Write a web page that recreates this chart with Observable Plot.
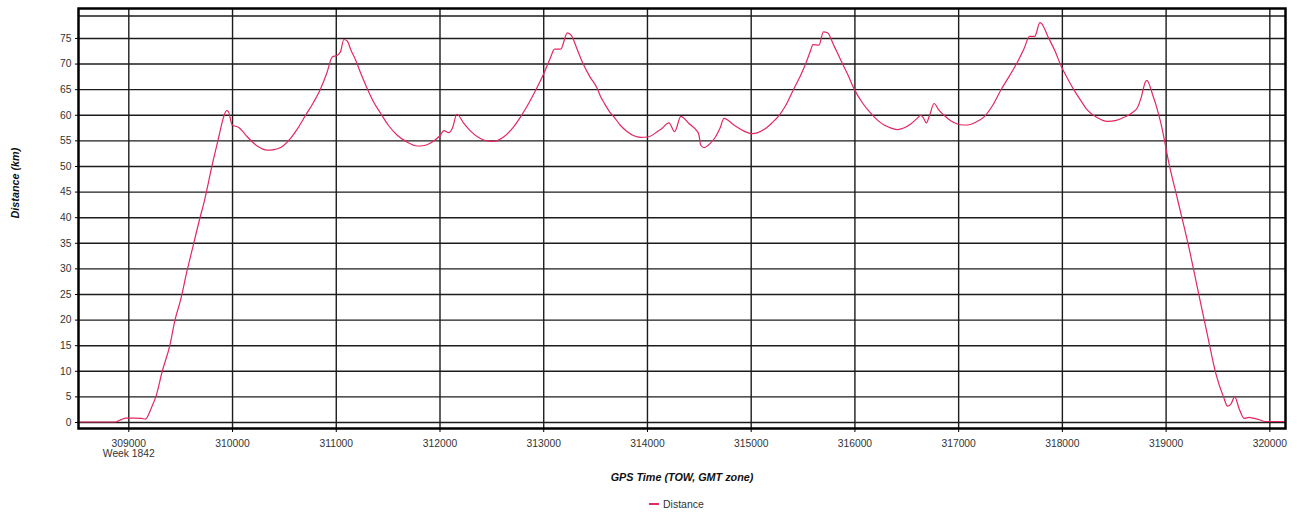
<!DOCTYPE html>
<html>
<head>
<meta charset="utf-8">
<script src="https://cdn.jsdelivr.net/npm/d3@7"></script>
<script src="https://cdn.jsdelivr.net/npm/@observablehq/plot@0.6"></script>
<style>
  html, body { margin: 0; padding: 0; background: #fff; }
  #wrap { position: relative; width: 1297px; height: 514px; font-family: "Liberation Sans", Arial, sans-serif; }
  #legend { position: absolute; left: 649px; top: 497px; height: 14px; display: flex; align-items: center; font-size: 10.5px; color: #333; }
  #legend .sw { width: 10px; height: 2px; background: #e3285f; margin-right: 4px; }
</style>
</head>
<body>
<div id="wrap"><div id="chart"></div><div id="legend"><span class="sw"></span><span>Distance</span></div></div>
<script>
// GPS time of week (s)
const tow = [
  308520, 308870, 308930, 308970, 309050, 309120, 309160, 309220, 309260, 309325,
  309395, 309445, 309500, 309560, 309620, 309680, 309730, 309807, 309870, 309910,
  309942, 309960, 309997, 310061, 310100, 310142, 310238, 310335, 310400, 310463,
  310559, 310630, 310704, 310780, 310849, 310910, 310961, 311010, 311041, 311073,
  311106, 311140, 311186, 311240, 311299, 311360, 311427, 311500, 311588, 311680,
  311781, 311850, 311909, 311999, 312038, 312086, 312118, 312163, 312230, 312300,
  312385, 312450, 312520, 312616, 312700, 312777, 312860, 312938, 313002, 313060,
  313105, 313163, 313228, 313266, 313320, 313372, 313440, 313517, 313549, 313580,
  313645, 313677, 313740, 313806, 313870, 313934, 314014, 314095, 314127, 314207,
  314262, 314322, 314400, 314474, 314495, 314513, 314545, 314609, 314657, 314700,
  314738, 314834, 314931, 315012, 315123, 315200, 315270, 315330, 315400, 315477,
  315526, 315570, 315596, 315654, 315696, 315735, 315800, 315863, 315930, 315991,
  316070, 316152, 316220, 316281, 316350, 316410, 316470, 316538, 316600, 316634,
  316660, 316689, 316720, 316763, 316810, 316859, 316920, 316988, 317040, 317085,
  317160, 317245, 317330, 317406, 317490, 317567, 317630, 317684, 317734, 317783,
  317800, 317860, 317930, 317990, 318060, 318113, 318180, 318242, 318330, 318435,
  318520, 318595, 318680, 318724, 318760, 318800, 318815, 318830, 318870, 318910,
  318949, 318990, 319013, 319110, 319222, 319302, 319399, 319479, 319553, 319592,
  319624, 319662, 319704, 319752, 319800, 319850, 319913, 319950, 320140
];
// Distance (km)
const distance = [
  0.1, 0.1, 0.6, 0.85, 0.85, 0.8, 0.65, 3.0, 5.0, 10.2,
  15.0, 20.0, 24.0, 29.5, 34.5, 39.5, 43.4, 50.6, 56.0, 59.4,
  60.9, 60.7, 58.1, 57.6, 56.8, 55.8, 54.0, 53.2, 53.3, 53.7,
  55.5, 57.5, 60.0, 62.5, 65.2, 68.3, 71.4, 71.7, 72.4, 74.8,
  74.5, 72.8, 70.8, 68.0, 65.2, 62.6, 60.4, 58.1, 56.1, 54.8,
  54.0, 54.1, 54.6, 56.0, 57.0, 56.6, 57.4, 60.2, 58.4, 56.8,
  55.5, 55.0, 54.9, 55.8, 57.5, 59.7, 62.5, 65.5, 68.2, 71.0,
  72.9, 72.9, 76.1, 75.6, 73.0, 70.4, 67.7, 65.2, 63.6, 62.5,
  60.4, 59.7, 58.0, 56.8, 56.0, 55.7, 55.8, 56.8, 57.2, 58.5,
  56.8, 59.8, 58.4, 57.0, 56.3, 54.2, 53.7, 54.6, 55.8, 57.5,
  59.4, 58.1, 56.9, 56.4, 57.2, 58.5, 60.0, 61.8, 64.7, 67.8,
  70.1, 72.5, 73.8, 73.7, 76.3, 76.1, 73.5, 70.8, 68.0, 65.2,
  62.5, 60.4, 59.0, 58.1, 57.5, 57.2, 57.5, 58.3, 59.4, 60.0,
  59.5, 58.5, 60.0, 62.3, 61.0, 60.0, 59.0, 58.3, 58.1, 58.1,
  58.6, 59.7, 62.0, 64.9, 67.7, 70.4, 73.0, 75.4, 75.4, 78.1,
  77.9, 75.4, 72.5, 69.5, 66.8, 64.9, 62.8, 61.0, 59.6, 58.8,
  59.0, 59.6, 60.6, 61.5, 63.5, 66.5, 66.8, 66.4, 64.0, 61.5,
  58.5, 54.5, 52.0, 43.6, 34.0, 26.3, 17.0, 9.6, 5.0, 3.2,
  3.6, 5.0, 2.7, 0.8, 1.0, 0.8, 0.45, 0.2, 0.2
];
const xTicks = [309000, 310000, 311000, 312000, 313000, 314000, 315000, 316000, 317000, 318000, 319000, 320000];
const yTicks = [0, 5, 10, 15, 20, 25, 30, 35, 40, 45, 50, 55, 60, 65, 70, 75];
const weekLabel = ["Week 1842"];
const xTitle = ["GPS Time (TOW, GMT zone)"];
const yTitle = ["Distance (km)"];
const seriesName = "Distance";

const data = tow.map((t, i) => ({t, d: distance[i]}));
const gridStroke = "#1c1c1c";

const chart = Plot.plot({
  width: 1297,
  height: 492,
  marginTop: 8,
  marginLeft: 78,
  marginRight: 12,
  marginBottom: 64,
  style: {fontFamily: "'Liberation Sans', Arial, sans-serif", fontSize: "10.3px", background: "#fff", color: "#333", overflow: "visible"},
  x: {domain: [308515, 320151]},
  y: {domain: [-1.17, 80.85]},
  marks: [
    Plot.gridY(yTicks, {stroke: gridStroke, strokeOpacity: 1, strokeWidth: 1.4}),
    Plot.ruleY([79.4], {stroke: gridStroke, strokeWidth: 1.4}),
    Plot.gridX(xTicks, {stroke: gridStroke, strokeOpacity: 1, strokeWidth: 1.4}),
    Plot.line(data, {x: "t", y: "d", stroke: "#e3285f", strokeWidth: 1.2, curve: "monotone-x"}),
    Plot.frame({stroke: "#000", strokeWidth: 2.5}),
    Plot.axisY(yTicks, {tickSize: 3, tickPadding: 4, label: null, stroke: "#000"}),
    Plot.axisX(xTicks, {tickSize: 4, tickPadding: 7, label: null, tickFormat: d => String(d), stroke: "#000"}),
    Plot.text(weekLabel, {x: () => 309000, text: d => d, frameAnchor: "bottom", dy: 28, fill: "#333"}),
    Plot.text(xTitle, {text: d => d, frameAnchor: "bottom", dy: 52, fontWeight: "bold", fontStyle: "italic", fontSize: 10.8, fill: "#111"}),
    Plot.text(yTitle, {text: d => d, frameAnchor: "left", dx: -63, rotate: -90, fontWeight: "bold", fontStyle: "italic", fontSize: 10.8, fill: "#111"})
  ]
});
document.getElementById("chart").appendChild(chart);
</script>
</body>
</html>
